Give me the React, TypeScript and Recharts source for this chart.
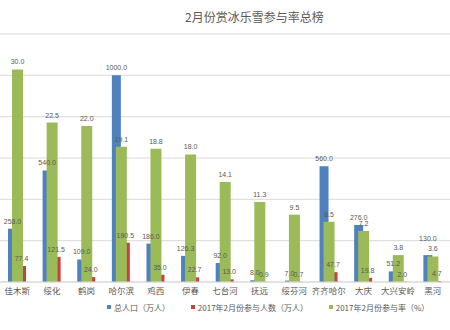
import React from 'react';
import { ComposedChart, Bar, XAxis, YAxis, CartesianGrid, Legend, LabelList } from 'recharts';

// 城市与三组数值
const cities = ['佳木斯', '绥化', '鹤岗', '哈尔滨', '鸡西', '伊春', '七台河', '抚远', '绥芬河', '齐齐哈尔', '大庆', '大兴安岭', '黑河'];
const population = [258.0, 540.0, 109.0, 1000.0, 186.0, 126.3, 92.0, 8.0, 7.0, 560.0, 276.0, 51.2, 130.0];
const participants = [77.4, 121.5, 24.0, 190.5, 35.0, 22.7, 13.0, 0.9, 0.7, 47.7, 19.8, 2.0, 4.7];
const rates = [30.0, 22.5, 22.0, 19.1, 18.8, 18.0, 14.1, 11.3, 9.5, 8.5, 7.2, 3.8, 3.6];
const leftTicks = [0, 200, 400, 600, 800, 1000, 1200];
const seriesNames = ['总人口（万人）', '2017年2月份参与人数（万人）', '2017年2月份参与率（%）'];

const BLUE = '#4F81BD';
const RED = '#C9413E';
const GREEN = '#9BBB59';
const GRAY = '#595959';
const CJK = '"Noto Sans CJK SC", sans-serif';
const NUM = '"Liberation Sans", sans-serif';

const data = cities.map((city, i) => ({
  city,
  pop: population[i],
  part: participants[i],
  rate: rates[i],
}));

const fmt = (v: any) => Number(v).toFixed(1);
const labelStyle = { fontSize: 7, fill: GRAY, fontFamily: NUM };

// 黑河的总人口标签在原图里被挪高了，避免和绿柱标签重叠
const popLabel = (props: any) => {
  const { x, y, width, value, index } = props;
  const lift = cities[index] === '黑河' ? 9 : 0;
  return (
    <text x={Number(x) + Number(width) / 2} y={Number(y) - 5 - lift} textAnchor="middle" style={labelStyle}>
      {fmt(value)}
    </text>
  );
};

const renderLegend = (props: any) => {
  const items = (props.payload || [])
    .filter((p: any) => seriesNames.includes(p.value))
    .sort((a: any, b: any) => seriesNames.indexOf(a.value) - seriesNames.indexOf(b.value));
  return (
    <div style={{ display: 'flex', alignItems: 'center', height: 14, paddingLeft: 107, fontFamily: CJK, fontSize: 8, color: GRAY }}>
      {items.map((p: any) => (
        <div key={p.value} style={{ display: 'flex', alignItems: 'center', marginRight: 21 }}>
          <span style={{ display: 'inline-block', width: 4, height: 4, background: p.color, marginRight: 3 }} />
          <span>{p.value}</span>
        </div>
      ))}
    </div>
  );
};

export default function App() {
  return (
    <div style={{ position: 'absolute', left: 0, top: 0, width: 450, height: 330, background: '#fff' }}>
      <div style={{ position: 'absolute', left: 185, top: 9, fontSize: 12, lineHeight: '16px', color: GRAY, fontFamily: CJK, whiteSpace: 'nowrap' }}>
        2月份赏冰乐雪参与率总榜
      </div>
      <ComposedChart width={450} height={330} data={data} margin={{ top: 34, right: 0, left: 0, bottom: 16 }} barGap={0}>
        <CartesianGrid vertical={false} stroke="#D9D9D9" xAxisId="a" yAxisId="l" />
        <XAxis
          xAxisId="a"
          dataKey="city"
          interval={0}
          tickLine={false}
          tickSize={4}
          height={18}
          axisLine={{ stroke: '#D9D9D9' }}
          tick={{ fontSize: 8.5, fill: GRAY, fontFamily: CJK }}
        />
        <XAxis xAxisId="b" dataKey="city" hide />
        <XAxis xAxisId="c" dataKey="city" hide />
        <YAxis yAxisId="l" hide domain={[0, 1200]} ticks={leftTicks} />
        <YAxis yAxisId="r" hide orientation="right" domain={[0, 35]} />
        <Legend verticalAlign="bottom" content={renderLegend} />
        <Bar xAxisId="a" yAxisId="l" dataKey="pop" name={seriesNames[0]} fill={BLUE} barSize={9} isAnimationActive={false} />
        <Bar xAxisId="a" yAxisId="l" dataKey="part" name={seriesNames[1]} fill={RED} barSize={9} isAnimationActive={false} />
        <Bar xAxisId="b" yAxisId="r" dataKey="rate" name={seriesNames[2]} fill={GREEN} barSize={11} isAnimationActive={false}>
          <LabelList dataKey="rate" position="top" offset={5} formatter={fmt} style={labelStyle} />
        </Bar>
        {/* 透明副本，只用来把蓝红两组的数值标签画在绿柱之上 */}
        <Bar xAxisId="c" yAxisId="l" dataKey="pop" fill="transparent" barSize={9} legendType="none" isAnimationActive={false}>
          <LabelList dataKey="pop" content={popLabel} />
        </Bar>
        <Bar xAxisId="c" yAxisId="l" dataKey="part" fill="transparent" barSize={9} legendType="none" isAnimationActive={false}>
          <LabelList dataKey="part" position="top" offset={5} formatter={fmt} style={labelStyle} />
        </Bar>
      </ComposedChart>
    </div>
  );
}
